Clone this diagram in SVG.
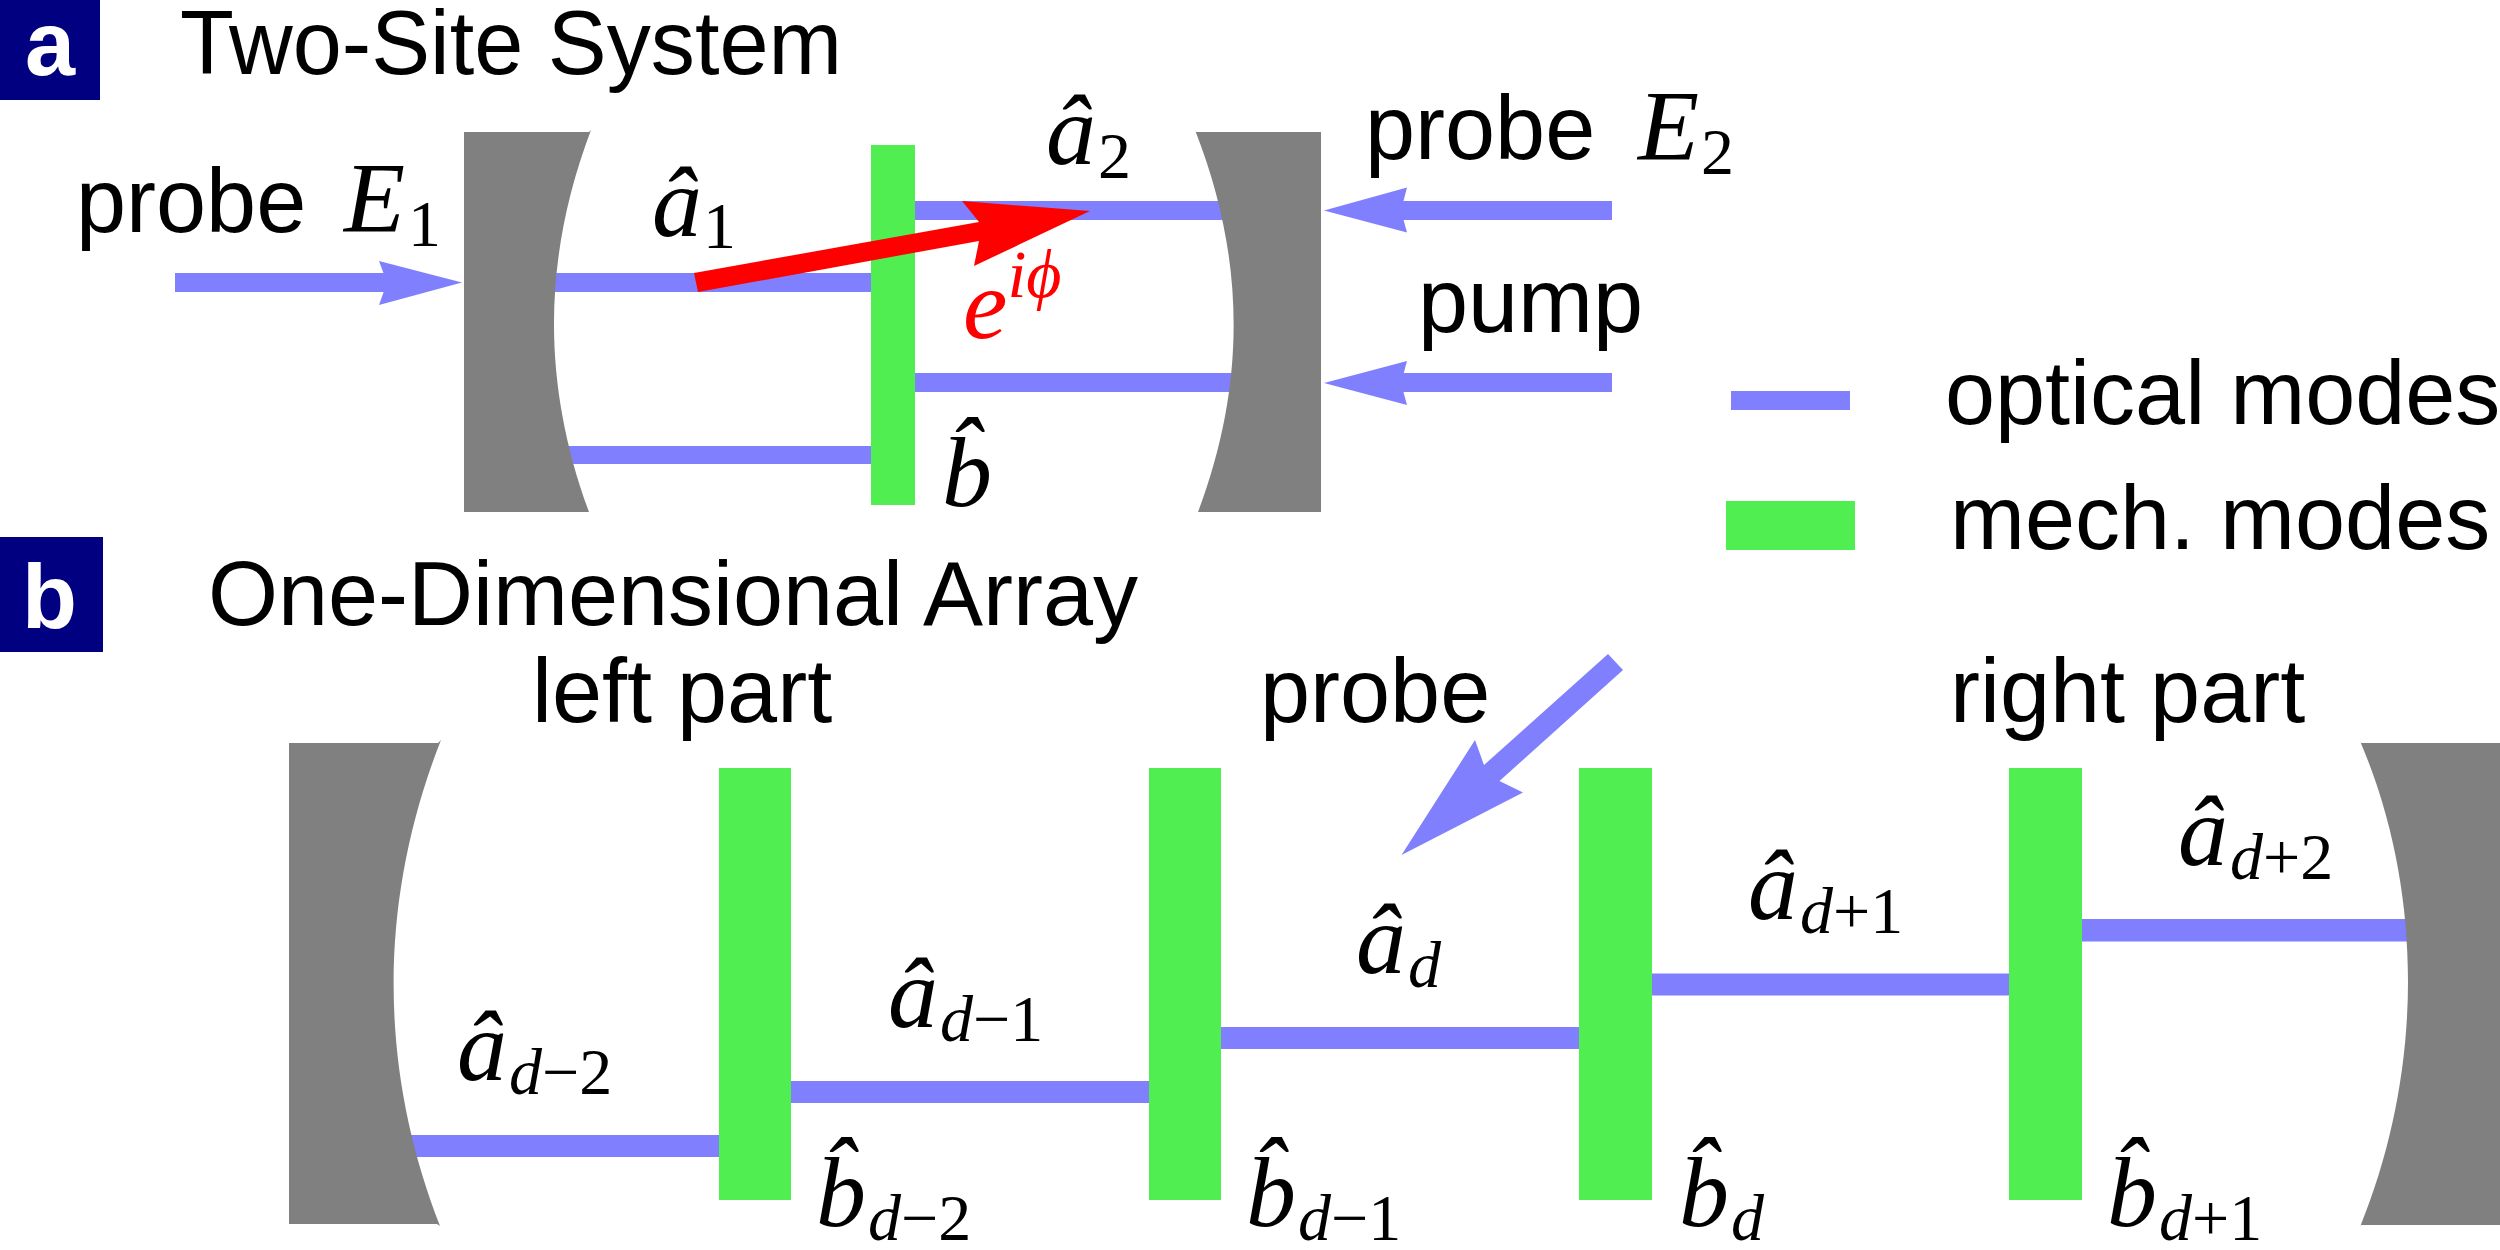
<svg xmlns="http://www.w3.org/2000/svg" width="2500" height="1250" viewBox="0 0 2500 1250">
<style>
.s{font-family:"Liberation Sans",Arial,sans-serif;fill:#000;font-size:90px}
.m{font-family:"Liberation Serif","Times New Roman",serif;font-style:italic;fill:#000;font-size:100px}
.sub{font-size:66px;font-style:normal}
.d{font-size:66px;font-style:italic}
.l{font-family:"Liberation Sans",Arial,sans-serif;font-weight:bold;fill:#fff;font-size:90px}
.mirror{fill:#808080}.mech{fill:#50ee50}.opt{fill:#8080ff}.box{fill:#000080}
</style>
<rect width="2500" height="1250" fill="#fff"/>
<g id="panel-a-label"><rect class="box" x="0" y="0" width="100" height="100"/><text class="l" x="25" y="75">a</text></g>
<text class="s" x="180" y="74" textLength="662" lengthAdjust="spacingAndGlyphs">Two-Site System</text>
<g id="connectors">
<rect class="opt" x="175" y="273" width="215" height="19"/><polygon class="opt" points="462,282.5 379,261 387,282.5 379,305"/>
<rect class="opt" x="540" y="273" width="335" height="19"/>
<rect class="opt" x="915" y="201" width="310" height="19"/>
<rect class="opt" x="915" y="373" width="320" height="19"/>
<rect class="opt" x="555" y="446" width="320" height="18"/>
<rect class="opt" x="1398" y="201" width="214" height="19"/><polygon class="opt" points="1324,210.5 1407,187.5 1401,210.5 1407,232.5"/>
<rect class="opt" x="1398" y="373" width="214" height="19"/><polygon class="opt" points="1324,383 1407,361 1401,383 1407,405"/>
<rect class="opt" x="405" y="1135" width="320" height="22"/>
<rect class="opt" x="785" y="1081" width="370" height="22"/>
<rect class="opt" x="1215" y="1027" width="370" height="22"/>
<rect class="opt" x="1645" y="973.5" width="370" height="22"/>
<rect class="opt" x="2075" y="919" width="340" height="22.5"/>
<polygon class="opt" points="1608,654 1623,670 1499.5,781 1523,792.5 1401.5,855 1475,740 1484,765"/>
</g>
<g id="mirror-a-left"><path class="mirror" d="M464,132H589L591,130C542,260 542,384 589,512H464Z"/></g>
<g id="mirror-a-right"><path class="mirror" d="M1196,132L1197,132H1321V512H1198C1246,384 1246,260 1195,130Z"/></g>
<g id="mech-a"><rect class="mech" x="871" y="145" width="44" height="360"/></g>
<polygon id="phase-arrow" fill="#f00" points="694,273 698,292 979,241 974,266 1090,211 962,201 979,222"/>
<text class="s" x="76" y="232">probe</text>
<text class="m" x="344" y="231">E<tspan class="sub" dx="3" dy="15">1</tspan></text>
<text class="m" x="652" y="236">â<tspan class="sub" dx="1" dy="12">1</tspan></text>
<text class="m" x="1046" y="164">â<tspan class="sub" dx="2" dy="14">2</tspan></text>
<text class="m" x="963" y="338" style="fill:#f00">e<tspan font-size="68" dy="-41">iϕ</tspan></text>
<text class="m" x="942" y="506">b̂</text>
<text class="s" x="1365" y="159">probe</text>
<text class="m" x="1638" y="159">E<tspan class="sub" dx="2" dy="15">2</tspan></text>
<text class="s" x="1418" y="332">pump</text>
<g id="legend">
<rect class="opt" x="1731" y="391" width="119" height="19"/>
<rect class="mech" x="1726" y="501" width="129" height="49"/>
<text class="s" x="1945" y="424">optical modes</text>
<text class="s" x="1950" y="549">mech. modes</text>
</g>
<g id="panel-b-label"><rect class="box" x="0" y="537" width="103" height="115"/><text class="l" x="22" y="628">b</text></g>
<text class="s" x="208" y="625" textLength="930" lengthAdjust="spacingAndGlyphs">One-Dimensional Array</text>
<text class="s" x="532" y="722">left part</text>
<text class="s" x="1260" y="722">probe</text>
<text class="s" x="1950" y="722">right part</text>
<g id="mirror-b-left"><path class="mirror" d="M289,743H438L441,740C378,900 378,1067 440,1226L437,1224H289Z"/></g>
<g id="mirror-b-right"><path class="mirror" d="M2361,743H2500V1225H2361L2360,1227C2424,1070 2424,890 2360,741Z"/></g>
<g id="mech-b1"><rect class="mech" x="719" y="768" width="72" height="432"/></g>
<g id="mech-b2"><rect class="mech" x="1149" y="768" width="72" height="432"/></g>
<g id="mech-b3"><rect class="mech" x="1579" y="768" width="73" height="432"/></g>
<g id="mech-b4"><rect class="mech" x="2009" y="768" width="73" height="432"/></g>
<text class="m" x="457" y="1080">â<tspan class="d" dx="2" dy="14">d</tspan><tspan class="sub">−2</tspan></text>
<text class="m" x="888" y="1027">â<tspan class="d" dx="2" dy="14">d</tspan><tspan class="sub">−1</tspan></text>
<text class="m" x="1356" y="973">â<tspan class="d" dx="2" dy="14">d</tspan></text>
<text class="m" x="1748" y="919">â<tspan class="d" dx="2" dy="14">d</tspan><tspan class="sub">+1</tspan></text>
<text class="m" x="2178" y="865">â<tspan class="d" dx="2" dy="14">d</tspan><tspan class="sub">+2</tspan></text>
<text class="m" x="816" y="1226">b̂<tspan class="d" dx="2" dy="14">d</tspan><tspan class="sub">−2</tspan></text>
<text class="m" x="1246" y="1226">b̂<tspan class="d" dx="2" dy="14">d</tspan><tspan class="sub">−1</tspan></text>
<text class="m" x="1679" y="1226">b̂<tspan class="d" dx="2" dy="14">d</tspan></text>
<text class="m" x="2107" y="1226">b̂<tspan class="d" dx="2" dy="14">d</tspan><tspan class="sub">+1</tspan></text>
</svg>
